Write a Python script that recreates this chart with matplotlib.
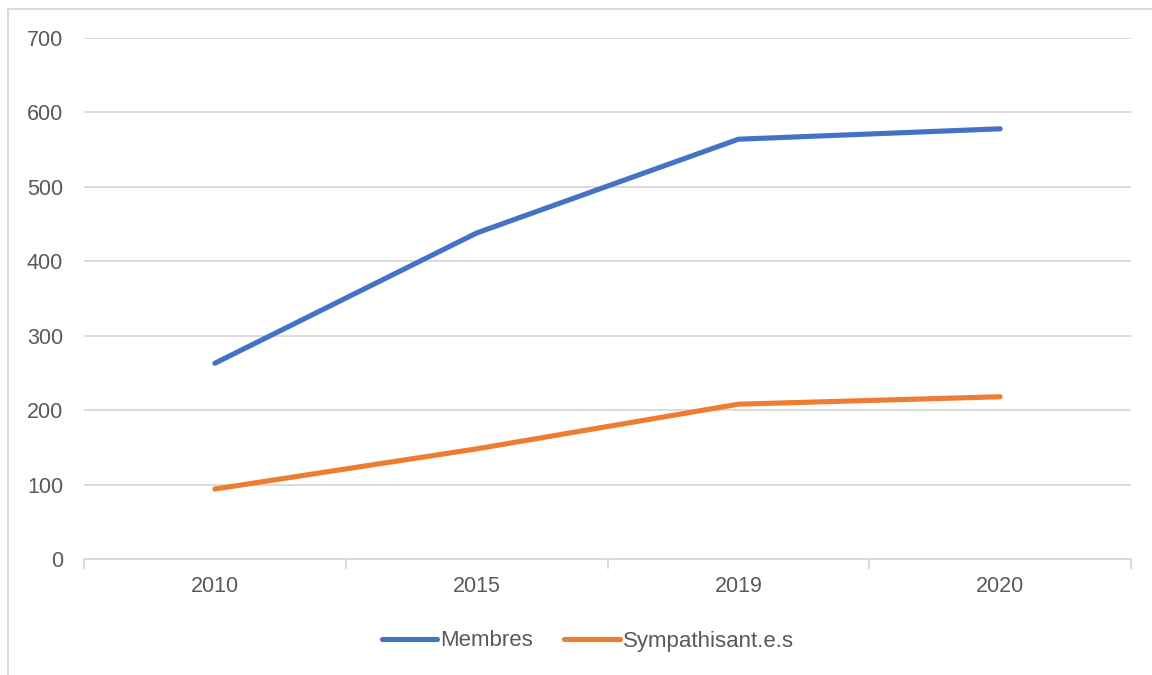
import matplotlib
matplotlib.use('Agg')
import matplotlib.pyplot as plt
from matplotlib.lines import Line2D
import numpy as np

years = ['2010', '2015', '2019', '2020']
membres = [263, 438, 564, 578]
sympathisants = [94, 148, 208, 218]

plt.rcParams['font.family'] = ['Liberation Sans', 'DejaVu Sans']
TXT = '#595959'
GRID = '#d9d9d9'

fig = plt.figure(figsize=(11.52, 6.75), dpi=100)
ax = fig.add_axes([84 / 1152, 1 - 559 / 675, (1131 - 84) / 1152, (559 - 38) / 675])

x = np.arange(len(years))
ax.plot(x, membres, color='#4472C4', lw=3.7, solid_capstyle='round',
        solid_joinstyle='round', label='Membres')
ax.plot(x, sympathisants, color='#ED7D31', lw=3.7, solid_capstyle='round',
        solid_joinstyle='round', label='Sympathisant.e.s')

ax.set_xlim(-0.5, len(years) - 0.5)
ax.set_ylim(0, 700)
ax.set_yticks(range(0, 701, 100))
ax.yaxis.grid(True, color=GRID, lw=1.3)
ax.set_axisbelow(True)

ax.set_xticks(x)
ax.set_xticklabels(years)
ax.set_xticks(np.arange(-0.5, len(years), 1), minor=True)
ax.tick_params(axis='x', which='major', length=0, pad=12, labelsize=15.5, colors=TXT)
ax.tick_params(axis='x', which='minor', length=7, width=1.3, color=GRID)
ax.tick_params(axis='y', length=0, pad=15, labelsize=15.5, colors=TXT)

for s in ['top', 'right', 'left']:
    ax.spines[s].set_visible(False)
ax.spines['bottom'].set_color(GRID)
ax.spines['bottom'].set_linewidth(1.3)

leg = fig.legend(loc='center', bbox_to_anchor=(588 / 1152, 1 - 641 / 675), ncol=2,
                 frameon=False, fontsize=16, handlelength=2.5, handletextpad=0.15,
                 columnspacing=1.4)
for t in leg.get_texts():
    t.set_color(TXT)

# chart area border (top and left visible)
fig.add_artist(Line2D([8 / 1152, 1], [1 - 9 / 675, 1 - 9 / 675], color=GRID, lw=1.3,
                      transform=fig.transFigure))
fig.add_artist(Line2D([8 / 1152, 8 / 1152], [0, 1 - 9 / 675], color=GRID, lw=1.3,
                      transform=fig.transFigure))

fig.savefig('out.png', dpi=100)
